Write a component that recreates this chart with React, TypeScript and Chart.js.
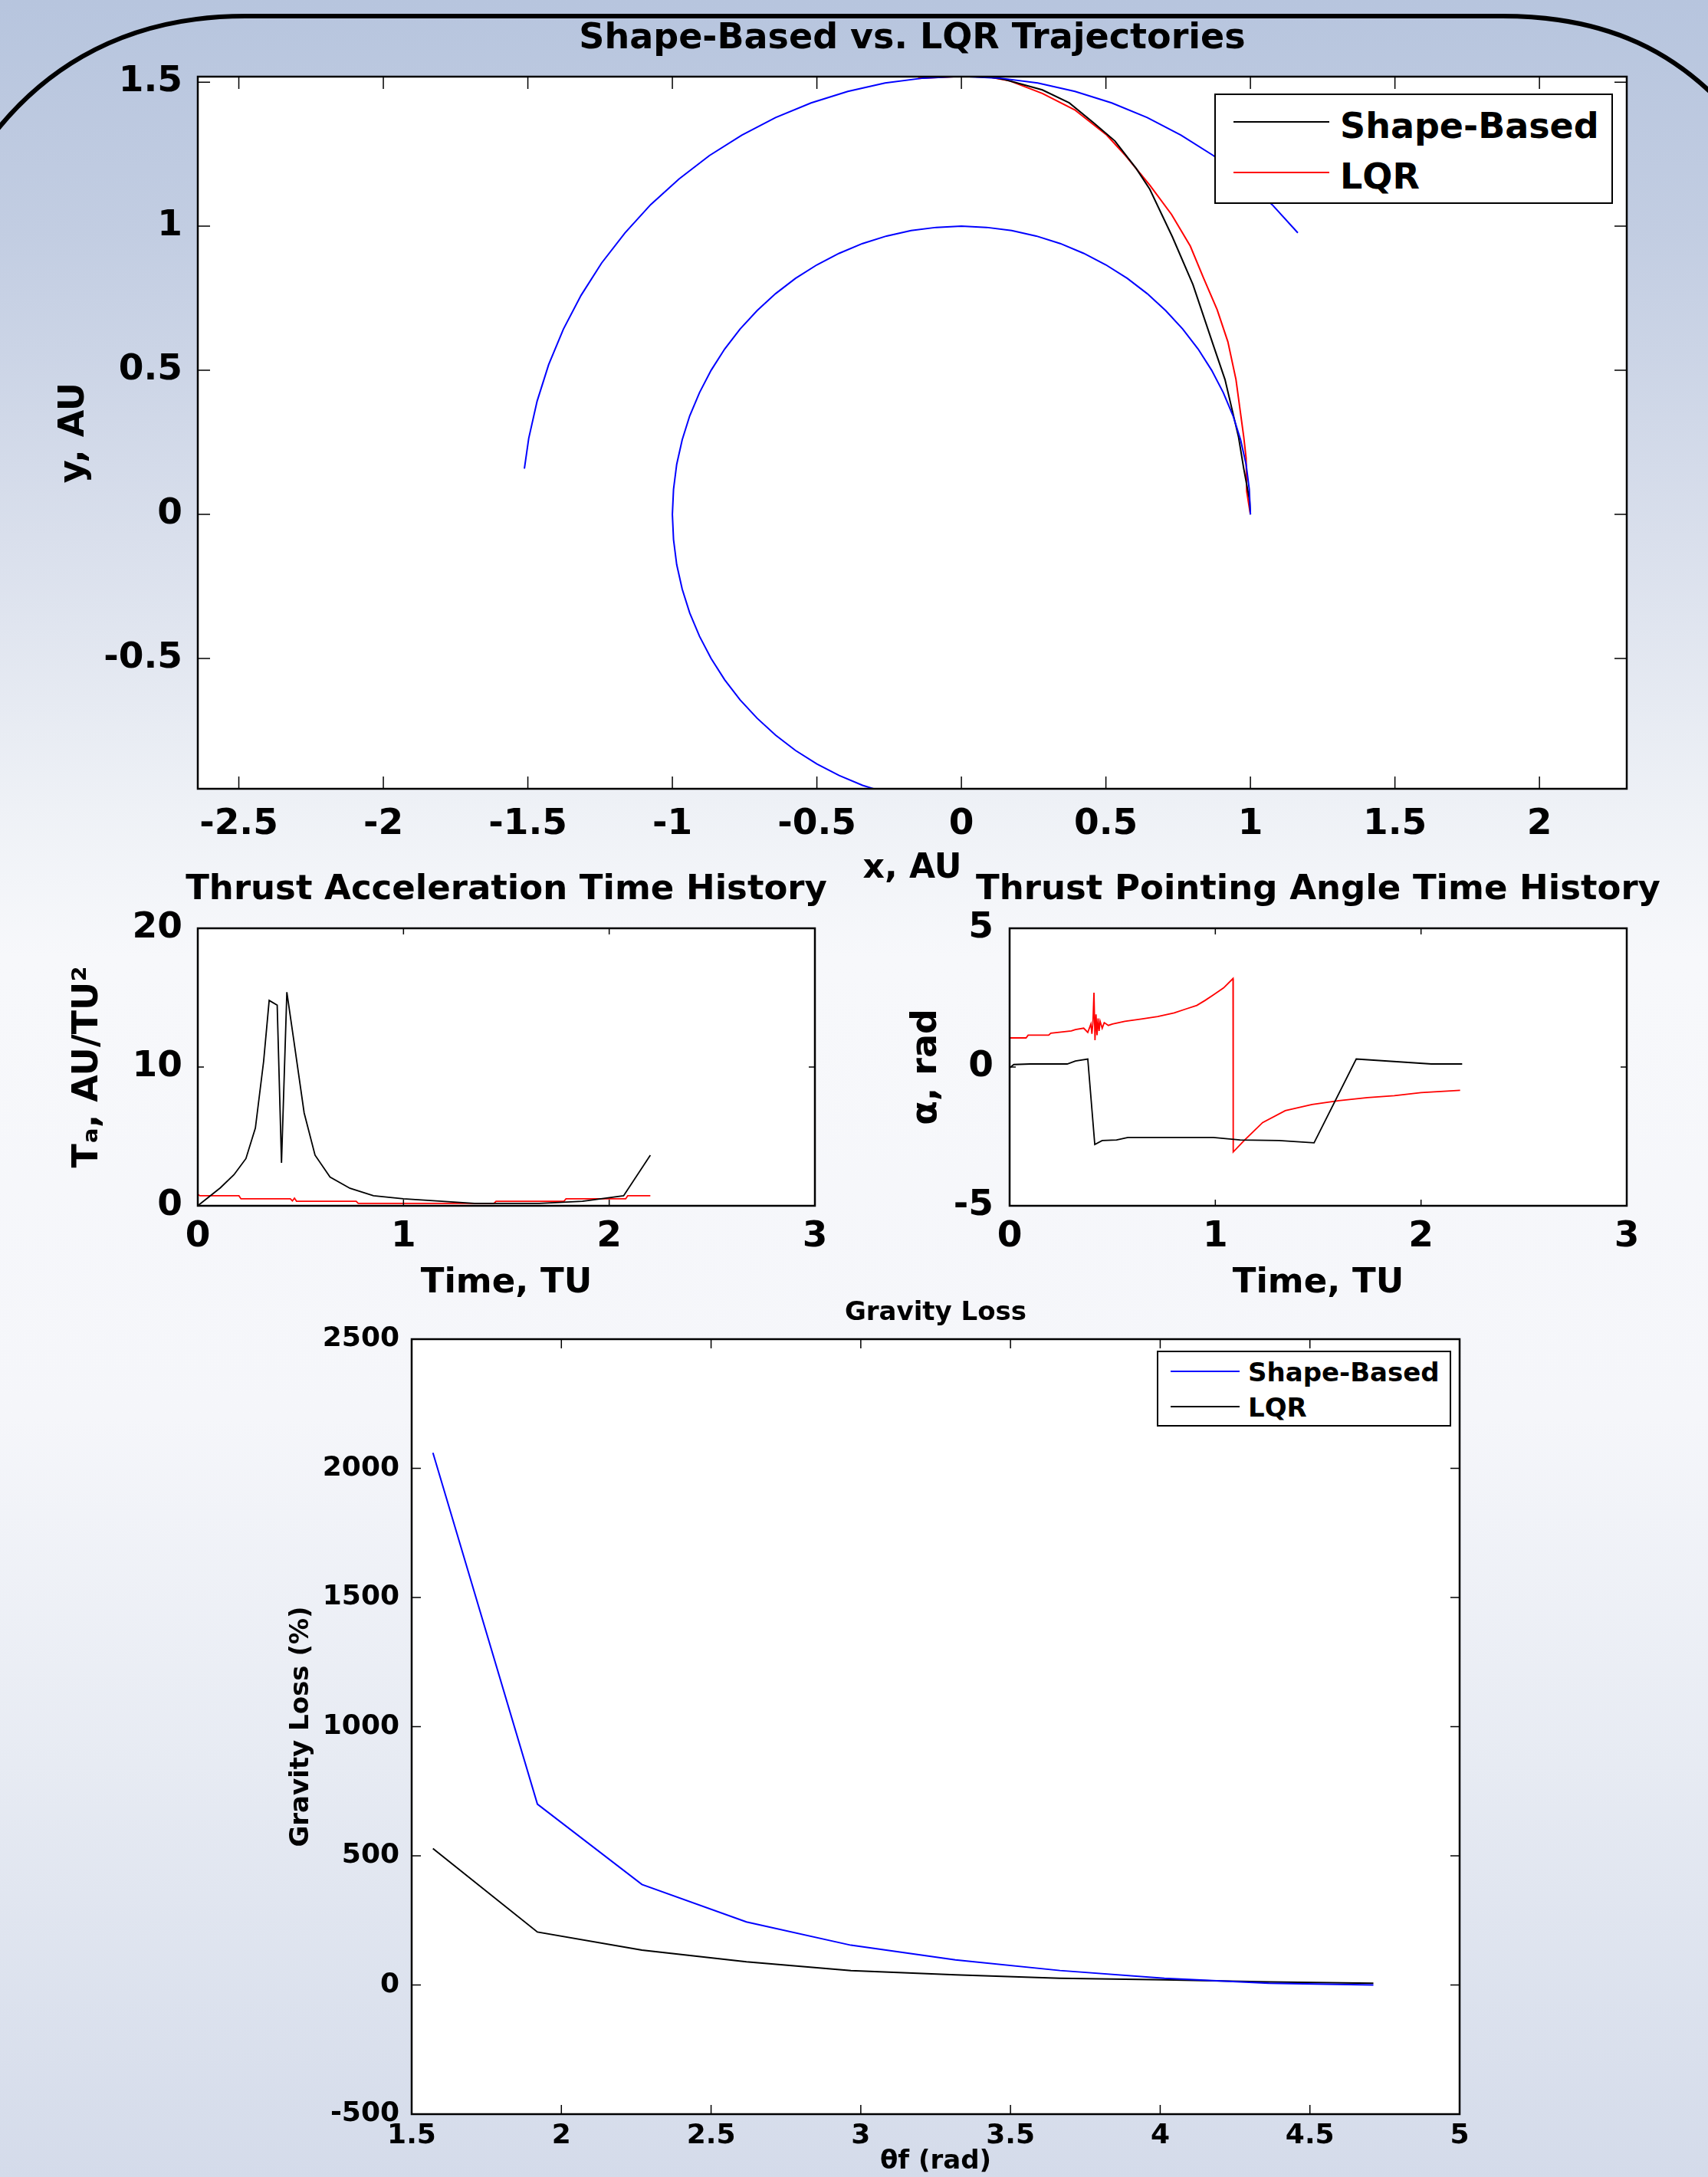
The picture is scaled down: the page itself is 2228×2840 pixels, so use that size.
import React, { useEffect, useRef } from "react";
import { Chart, registerables } from "chart.js";

Chart.register(...registerables);

const FONT = "'DejaVu Sans', Verdana, sans-serif";
Chart.defaults.font.family = FONT;
Chart.defaults.color = "#000";

// ================= DATA =================
// --- Shape-Based vs. LQR Trajectories (x, y in AU) ---
const earthOrbitX = [1, 0.996, 0.985, 0.966, 0.94, 0.906, 0.866, 0.819, 0.766, 0.707, 0.643, 0.574, 0.5, 0.423, 0.342, 0.259, 0.174, 0.087, 0, -0.087, -0.174, -0.259, -0.342, -0.423, -0.5, -0.574, -0.643, -0.707, -0.766, -0.819, -0.866, -0.906, -0.94, -0.966, -0.985, -0.996, -1, -0.996, -0.985, -0.966, -0.94, -0.906, -0.866, -0.819, -0.766, -0.707, -0.643, -0.574, -0.5, -0.423, -0.342, -0.259, -0.174];
const earthOrbitY = [0, 0.087, 0.174, 0.259, 0.342, 0.423, 0.5, 0.574, 0.643, 0.707, 0.766, 0.819, 0.866, 0.906, 0.94, 0.966, 0.985, 0.996, 1, 0.996, 0.985, 0.966, 0.94, 0.906, 0.866, 0.819, 0.766, 0.707, 0.643, 0.574, 0.5, 0.423, 0.342, 0.259, 0.174, 0.087, 0, -0.087, -0.174, -0.259, -0.342, -0.423, -0.5, -0.574, -0.643, -0.707, -0.766, -0.819, -0.866, -0.906, -0.94, -0.966, -0.985];
const marsOrbitX = [-1.512, -1.497, -1.468, -1.428, -1.377, -1.316, -1.245, -1.164, -1.075, -0.977, -0.872, -0.76, -0.643, -0.52, -0.393, -0.264, -0.132, 0, 0.132, 0.264, 0.393, 0.52, 0.643, 0.76, 0.872, 0.977, 1.075, 1.164];
const marsOrbitY = [0.159, 0.264, 0.393, 0.52, 0.643, 0.76, 0.872, 0.977, 1.075, 1.164, 1.245, 1.316, 1.377, 1.428, 1.468, 1.497, 1.514, 1.52, 1.514, 1.497, 1.468, 1.428, 1.377, 1.316, 1.245, 1.164, 1.075, 0.977];
const shapeBasedX = [1.0, 0.997, 0.977, 0.959, 0.912, 0.875, 0.801, 0.73, 0.652, 0.605, 0.531, 0.456, 0.373, 0.28, 0.15, 0.094, 0];
const shapeBasedY = [0, 0.05, 0.158, 0.268, 0.468, 0.577, 0.798, 0.963, 1.128, 1.2, 1.296, 1.36, 1.428, 1.473, 1.509, 1.518, 1.52];
const lqrX = [1.0, 0.987, 0.985, 0.977, 0.95, 0.922, 0.885, 0.838, 0.792, 0.727, 0.653, 0.568, 0.503, 0.392, 0.28, 0.168, 0.094, 0, -0.15];
const lqrY = [0, 0.08, 0.196, 0.268, 0.468, 0.599, 0.71, 0.82, 0.931, 1.041, 1.141, 1.245, 1.316, 1.404, 1.461, 1.504, 1.518, 1.52, 1.513];
const trajXTicks = [-2.5, -2, -1.5, -1, -0.5, 0, 0.5, 1, 1.5, 2];
const trajYTicks = [-0.5, 0, 0.5, 1, 1.5];

// --- Thrust Acceleration Time History (TU, AU/TU^2) ---
const accelShapeT = [0, 0.11, 0.176, 0.234, 0.28, 0.32, 0.347, 0.386, 0.407, 0.433, 0.465, 0.517, 0.57, 0.643, 0.74, 0.854, 1.0, 1.345, 1.66, 1.87, 2.07, 2.2];
const accelShapeV = [0, 1.3, 2.24, 3.4, 5.6, 10.4, 14.8, 14.46, 3.1, 15.4, 12.1, 6.7, 3.65, 2.07, 1.26, 0.72, 0.5, 0.17, 0.17, 0.33, 0.72, 3.65];
const accelLqrT = [0, 0.01, 0.2, 0.21, 0.45, 0.46, 0.47, 0.48, 0.77, 0.78, 1.44, 1.45, 1.78, 1.79, 2.08, 2.09, 2.2];
const accelLqrV = [0.83, 0.72, 0.72, 0.5, 0.5, 0.35, 0.55, 0.33, 0.33, 0.17, 0.17, 0.33, 0.33, 0.5, 0.5, 0.72, 0.72];
const timeTicks = [0, 1, 2, 3];
const accelTicks = [0, 10, 20];

// --- Thrust Pointing Angle Time History (TU, rad) ---
const angleShapeT = [0, 0.02, 0.1, 0.28, 0.32, 0.38, 0.414, 0.45, 0.52, 0.575, 0.99, 1.12, 1.31, 1.48, 1.685, 2.05, 2.2];
const angleShapeV = [-0.03, 0.09, 0.11, 0.11, 0.22, 0.29, -2.79, -2.65, -2.63, -2.54, -2.54, -2.63, -2.65, -2.73, 0.29, 0.11, 0.11];
const angleLqrT = [0, 0.08, 0.09, 0.19, 0.2, 0.3, 0.32, 0.36, 0.38, 0.395, 0.4, 0.405, 0.41, 0.415, 0.42, 0.425, 0.43, 0.435, 0.44, 0.45, 0.46, 0.48, 0.5, 0.56, 0.64, 0.72, 0.8, 0.86, 0.91, 0.95, 0.99, 1.04, 1.086, 1.087, 1.14, 1.23, 1.34, 1.47, 1.6, 1.74, 1.87, 2.0, 2.19];
const angleLqrV = [1.05, 1.05, 1.15, 1.15, 1.22, 1.3, 1.35, 1.4, 1.25, 1.55, 1.2, 1.6, 2.68, 0.97, 1.9, 1.15, 1.75, 1.3, 1.65, 1.4, 1.6, 1.5, 1.55, 1.65, 1.73, 1.82, 1.95, 2.1, 2.22, 2.4, 2.6, 2.85, 3.19, -3.06, -2.65, -2.0, -1.57, -1.35, -1.21, -1.1, -1.03, -0.92, -0.84];
const angleTicks = [-5, 0, 5];

// --- Gravity Loss (theta_f rad, %) ---
const gravityTheta = [1.571, 1.92, 2.269, 2.618, 2.967, 3.316, 3.665, 4.014, 4.363, 4.712];
const gravityShape = [2060, 700, 389, 244, 154, 97, 56, 26, 7, 0];
const gravityLqr = [528, 205, 135, 90, 56, 39, 26, 20, 12, 7];
const thetaTicks = [1.5, 2, 2.5, 3, 3.5, 4, 4.5, 5];
const lossTicks = [-500, 0, 500, 1000, 1500, 2000, 2500];

// ================= CHART SETUP =================
type Series = { label: string; xs: number[]; ys: number[]; color: string; width: number; legend: boolean };

type PanelSpec = {
  id: string;
  title: string; titleFont: number; titleMid: number;
  L: number; R: number; T: number; B: number;
  xMin: number; xMax: number; yMin: number; yMax: number;
  xTicks: number[]; yTicks: number[];
  tickFont: number; xTickMid: number; yTickRight: number;
  xTitle: string; xTitleFont: number; xTitleMid: number;
  yTitle: string; yTitleFont: number; yTitleMid: number;
  tickLen: number;
  series: Series[];
};

const BLUE = "#0000ff";
const RED = "#ff0000";
const BLACK = "#000000";

const PANELS: PanelSpec[] = [
  {
    id: "traj",
    title: "Shape-Based vs. LQR Trajectories", titleFont: 46, titleMid: 51,
    L: 258, R: 2122, T: 100, B: 1029,
    xMin: -2.642, xMax: 2.302, yMin: -0.952, yMax: 1.519,
    xTicks: trajXTicks, yTicks: trajYTicks,
    tickFont: 47, xTickMid: 1068, yTickRight: 246,
    xTitle: "x, AU", xTitleFont: 44, xTitleMid: 1134,
    yTitle: "y, AU", yTitleFont: 46, yTitleMid: 97,
    tickLen: 16,
    series: [
      { label: "Earth orbit", xs: earthOrbitX, ys: earthOrbitY, color: BLUE, width: 2, legend: false },
      { label: "Mars orbit", xs: marsOrbitX, ys: marsOrbitY, color: BLUE, width: 2, legend: false },
      { label: "Shape-Based", xs: shapeBasedX, ys: shapeBasedY, color: BLACK, width: 2, legend: true },
      { label: "LQR", xs: lqrX, ys: lqrY, color: RED, width: 2, legend: true },
    ],
  },
  {
    id: "accel",
    title: "Thrust Acceleration Time History", titleFont: 45, titleMid: 1161,
    L: 258, R: 1063, T: 1211, B: 1573,
    xMin: 0, xMax: 3, yMin: 0, yMax: 20,
    xTicks: timeTicks, yTicks: accelTicks,
    tickFont: 47, xTickMid: 1606, yTickRight: 246,
    xTitle: "Time, TU", xTitleFont: 45, xTitleMid: 1674,
    yTitle: "Tₐ, AU/TU²", yTitleFont: 46, yTitleMid: 115,
    tickLen: 8,
    series: [
      { label: "Shape-Based", xs: accelShapeT, ys: accelShapeV, color: BLACK, width: 1.8, legend: false },
      { label: "LQR", xs: accelLqrT, ys: accelLqrV, color: RED, width: 1.8, legend: false },
    ],
  },
  {
    id: "angle",
    title: "Thrust Pointing Angle Time History", titleFont: 45, titleMid: 1161,
    L: 1317, R: 2122, T: 1211, B: 1573,
    xMin: 0, xMax: 3, yMin: -5, yMax: 5,
    xTicks: timeTicks, yTicks: angleTicks,
    tickFont: 47, xTickMid: 1606, yTickRight: 1304,
    xTitle: "Time, TU", xTitleFont: 45, xTitleMid: 1674,
    yTitle: "α, rad", yTitleFont: 46, yTitleMid: 1209,
    tickLen: 8,
    series: [
      { label: "Shape-Based", xs: angleShapeT, ys: angleShapeV, color: BLACK, width: 1.8, legend: false },
      { label: "LQR", xs: angleLqrT, ys: angleLqrV, color: RED, width: 1.8, legend: false },
    ],
  },
  {
    id: "gravity",
    title: "Gravity Loss", titleFont: 34, titleMid: 1713,
    L: 537, R: 1904, T: 1747, B: 2758,
    xMin: 1.5, xMax: 5, yMin: -500, yMax: 2500,
    xTicks: thetaTicks, yTicks: lossTicks,
    tickFont: 36, xTickMid: 2779, yTickRight: 529,
    xTitle: "θf (rad)", xTitleFont: 34, xTitleMid: 2821,
    yTitle: "Gravity Loss (%)", yTitleFont: 34, yTitleMid: 393,
    tickLen: 12,
    series: [
      { label: "Shape-Based", xs: gravityTheta, ys: gravityShape, color: BLUE, width: 2, legend: true },
      { label: "LQR", xs: gravityTheta, ys: gravityLqr, color: BLACK, width: 2, legend: true },
    ],
  },
];

type LegendSpec = {
  panel: string;
  left: number; top: number; width: number; height: number;
  lineX1: number; lineX2: number; textX: number; rowYs: number[]; textDy: number; fontSize: number;
};

const LEGENDS: LegendSpec[] = [
  { panel: "traj", left: 1584, top: 122, width: 520, height: 144, lineX1: 1609, lineX2: 1734, textX: 1748, rowYs: [159, 225], textDy: 5, fontSize: 46 },
  { panel: "gravity", left: 1509, top: 1762, width: 384, height: 99, lineX1: 1527, lineX2: 1617, textX: 1628, rowYs: [1789, 1835], textDy: 1, fontSize: 34 },
];

function geometry(s: PanelSpec) {
  const lhT = s.titleFont * 1.2;
  const lhY = s.yTitleFont * 1.2;
  const lhX = s.xTitleFont * 1.2;
  const lhTick = s.tickFont * 1.2;
  const ct = Math.round(s.titleMid - lhT / 2);
  const cl = Math.round(s.yTitleMid - lhY / 2);
  const W = s.L - cl;
  const cw = s.R - s.L + 2 * W;
  const titleBottomPad = s.T - ct - lhT;
  const ch = Math.round(s.xTitleMid + lhX / 2 - ct);
  const Hx = ct + ch - s.B;
  const xTickPad = s.xTickMid - s.B - lhTick / 2;
  const yTickPad = s.L - s.yTickRight;
  return { ct, cl, W, cw, ch, titleBottomPad, Hx, xTickPad, yTickPad };
}

const matlabAxes = {
  id: "matlabAxes",
  beforeDraw(chart: any) {
    const { ctx, chartArea: a } = chart;
    ctx.save();
    ctx.fillStyle = "#ffffff";
    ctx.fillRect(a.left, a.top, a.right - a.left, a.bottom - a.top);
    ctx.restore();
  },
  afterDraw(chart: any, _args: any, opts: any) {
    const { ctx, chartArea: a } = chart;
    const xs = chart.scales.x;
    const ys = chart.scales.y;
    const len = (opts && opts.tickLen) || 10;
    ctx.save();
    ctx.strokeStyle = "#000";
    ctx.lineWidth = 1.5;
    ctx.beginPath();
    for (const t of xs.ticks) {
      const p = xs.getPixelForValue(t.value);
      ctx.moveTo(p, a.bottom);
      ctx.lineTo(p, a.bottom - len);
      ctx.moveTo(p, a.top);
      ctx.lineTo(p, a.top + len);
    }
    for (const t of ys.ticks) {
      const p = ys.getPixelForValue(t.value);
      ctx.moveTo(a.left, p);
      ctx.lineTo(a.left + len, p);
      ctx.moveTo(a.right, p);
      ctx.lineTo(a.right - len, p);
    }
    ctx.stroke();
    ctx.lineWidth = 2.5;
    ctx.strokeRect(a.left, a.top, a.right - a.left, a.bottom - a.top);
    ctx.restore();
  },
};

function buildConfig(s: PanelSpec, g: ReturnType<typeof geometry>): any {
  const bold = (size: number) => ({ family: FONT, size, weight: "bold" as const });
  return {
    type: "scatter",
    data: {
      datasets: s.series.map((se) => ({
        label: se.label,
        data: se.xs.map((x, i) => ({ x, y: se.ys[i] })),
        borderColor: se.color,
        backgroundColor: se.color,
        borderWidth: se.width,
        showLine: true,
        pointRadius: 0,
        pointHoverRadius: 0,
        tension: 0,
        fill: false,
      })),
    },
    options: {
      responsive: false,
      animation: false,
      devicePixelRatio: 1,
      events: [],
      layout: { padding: 0 },
      plugins: {
        legend: { display: false },
        tooltip: { enabled: false },
        title: {
          display: true,
          text: s.title,
          color: "#000",
          font: bold(s.titleFont),
          padding: { top: 0, bottom: g.titleBottomPad },
        },
        matlabAxes: { tickLen: s.tickLen },
      },
      scales: {
        x: {
          type: "linear",
          position: "bottom",
          min: s.xMin,
          max: s.xMax,
          grid: { display: false },
          border: { display: false },
          afterBuildTicks: (sc: any) => {
            sc.ticks = s.xTicks.map((v) => ({ value: v }));
          },
          afterFit: (sc: any) => {
            sc.height = g.Hx;
          },
          ticks: {
            color: "#000",
            font: bold(s.tickFont),
            padding: g.xTickPad,
            autoSkip: false,
            maxRotation: 0,
            minRotation: 0,
            callback: (v: number) => String(v),
          },
          title: { display: true, text: s.xTitle, color: "#000", font: bold(s.xTitleFont), padding: 0 },
        },
        y: {
          type: "linear",
          position: "left",
          min: s.yMin,
          max: s.yMax,
          grid: { display: false },
          border: { display: false },
          afterBuildTicks: (sc: any) => {
            sc.ticks = s.yTicks.map((v) => ({ value: v }));
          },
          afterFit: (sc: any) => {
            sc.width = g.W;
          },
          ticks: {
            color: "#000",
            font: bold(s.tickFont),
            padding: g.yTickPad,
            autoSkip: false,
            callback: (v: number) => String(v),
          },
          title: { display: true, text: s.yTitle, color: "#000", font: bold(s.yTitleFont), padding: 0 },
        },
        yR: {
          type: "linear",
          position: "right",
          display: true,
          grid: { display: false },
          border: { display: false },
          ticks: { display: false },
          afterFit: (sc: any) => {
            sc.width = g.W;
          },
        },
      },
    },
    plugins: [matlabAxes],
  };
}

function Panel({ spec }: { spec: PanelSpec }) {
  const ref = useRef<HTMLCanvasElement | null>(null);
  const g = geometry(spec);
  useEffect(() => {
    if (!ref.current) return;
    const chart = new Chart(ref.current, buildConfig(spec, g));
    return () => chart.destroy();
  }, []);
  return (
    <canvas
      ref={ref}
      width={g.cw}
      height={g.ch}
      style={{ position: "absolute", left: g.cl, top: g.ct, width: g.cw, height: g.ch }}
    />
  );
}

function HtmlLegend({ spec }: { spec: LegendSpec }) {
  const panel = PANELS.find((p) => p.id === spec.panel)!;
  const items = panel.series.filter((s) => s.legend);
  return (
    <>
      <div
        style={{
          position: "absolute",
          left: spec.left,
          top: spec.top,
          width: spec.width,
          height: spec.height,
          background: "#fff",
          border: "2px solid #000",
          boxSizing: "border-box",
        }}
      />
      {items.map((it, i) => (
        <React.Fragment key={i}>
          <div
            style={{
              position: "absolute",
              left: spec.lineX1,
              top: spec.rowYs[i] - 1,
              width: spec.lineX2 - spec.lineX1,
              height: 2,
              background: it.color,
            }}
          />
          <div
            style={{
              position: "absolute",
              left: spec.textX,
              top: spec.rowYs[i] + spec.textDy - spec.fontSize * 0.582,
              height: spec.fontSize * 1.2,
              lineHeight: `${spec.fontSize * 1.2}px`,
              fontSize: spec.fontSize,
              fontWeight: "bold",
              fontFamily: FONT,
              whiteSpace: "nowrap",
              color: "#000",
            }}
          >
            {it.label}
          </div>
        </React.Fragment>
      ))}
    </>
  );
}

const BACKGROUND =
  "linear-gradient(to bottom, #b7c5de 0px, #c2cde2 300px, #d9dfec 700px, #eef1f6 1050px, #f7f8fb 1250px, #f5f6fa 1850px, #e7ebf3 2300px, #d4dbea 2840px)";

export default function App() {
  return (
    <div
      style={{
        position: "absolute",
        left: 0,
        top: 0,
        width: 2228,
        height: 2840,
        overflow: "hidden",
        background: BACKGROUND,
        fontFamily: FONT,
      }}
    >
      <svg width={2228} height={2840} style={{ position: "absolute", left: 0, top: 0 }}>
        <path
          d="M -30 205 C 40 100, 150 21, 320 21 L 1960 21 C 2100 21, 2190 70, 2260 150"
          fill="none"
          stroke="#000"
          strokeWidth={6}
        />
      </svg>
      {PANELS.map((p) => (
        <Panel key={p.id} spec={p} />
      ))}
      {LEGENDS.map((l) => (
        <HtmlLegend key={l.panel} spec={l} />
      ))}
    </div>
  );
}
